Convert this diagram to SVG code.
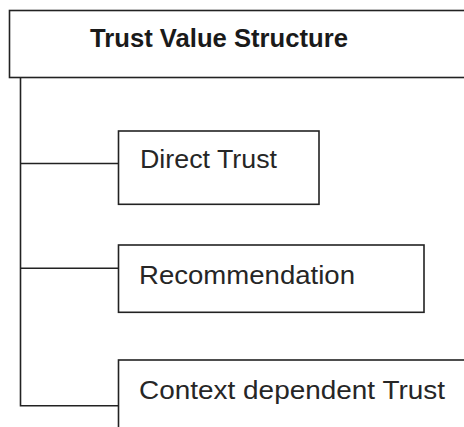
<svg xmlns="http://www.w3.org/2000/svg" width="464" height="427" viewBox="0 0 464 427">
  <style>
    .box { fill: #ffffff; stroke: #222222; stroke-width: 1.6; }
    .link { fill: none; stroke: #222222; stroke-width: 1.6; }
    .label { font-family: "Liberation Sans", Arial, sans-serif; font-size: 26px; fill: #262626; }
    .title { font-weight: bold; fill: #1a1a1a; }
  </style>
  <rect width="464" height="427" fill="#ffffff"/>

  <!-- tree connectors: spine down the left, branches to each child -->
  <g id="connectors">
    <path class="link" d="M20.5 78 V405.7 H118.5"/>
    <path class="link" d="M20.5 163.5 H118.5"/>
    <path class="link" d="M20.5 268.2 H118.5"/>
  </g>

  <g id="root">
    <rect class="box" x="9.5" y="10.5" width="470" height="67"/>
    <text class="label title" x="90" y="47" textLength="258" lengthAdjust="spacingAndGlyphs">Trust Value Structure</text>
  </g>

  <g id="direct-trust">
    <rect class="box" x="118.5" y="131" width="200.5" height="73.3"/>
    <text class="label" x="140" y="168" textLength="137" lengthAdjust="spacingAndGlyphs">Direct Trust</text>
  </g>

  <g id="recommendation">
    <rect class="box" x="118.5" y="245" width="305.5" height="67.3"/>
    <text class="label" x="139" y="284" textLength="216" lengthAdjust="spacingAndGlyphs">Recommendation</text>
  </g>

  <g id="context-trust">
    <rect class="box" x="118.5" y="360" width="360" height="90"/>
    <text class="label" x="139" y="399" textLength="306" lengthAdjust="spacingAndGlyphs">Context dependent Trust</text>
  </g>
</svg>
